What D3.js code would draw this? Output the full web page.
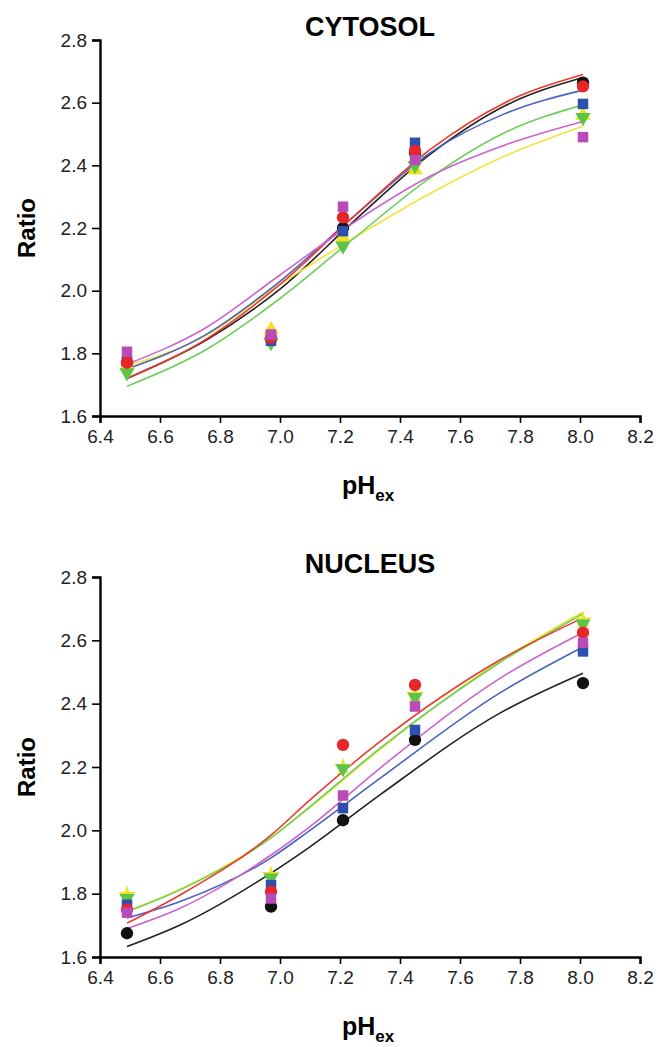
<!DOCTYPE html>
<html>
<head>
<meta charset="utf-8">
<script src="https://cdn.jsdelivr.net/npm/d3@7"></script>
<style>
  body { margin: 0; background: #fff; }
  svg { display: block; }
</style>
</head>
<body>
<div id="chart"></div>
<script>
'use strict';
// two panels of ratio vs external pH, six cells each, points + fitted curves

var phPoints = [6.49, 6.97, 7.21, 7.45, 8.01];
var xTicks = [6.4, 6.6, 6.8, 7.0, 7.2, 7.4, 7.6, 7.8, 8.0, 8.2];
var yTicks = [1.6, 1.8, 2.0, 2.2, 2.4, 2.6, 2.8];

// measured ratios, cytosol
var cytBlack   = [1.77, 1.845, 2.20, 2.44, 2.664];
var cytRed     = [1.77, 1.85, 2.234, 2.446, 2.652];
var cytBlue    = [1.775, 1.84, 2.19, 2.472, 2.596];
var cytGreen   = [1.738, 1.835, 2.143, 2.40, 2.553];
var cytYellow  = [1.76, 1.875, 2.17, 2.385, 2.56];
var cytMagenta = [1.805, 1.86, 2.268, 2.417, 2.49];

// fitted curves, cytosol
var cytFitPh      = [6.49, 6.75, 7.0, 7.25, 7.5, 7.75, 8.01];
var cytFitBlack   = [1.72, 1.84, 2.005, 2.225, 2.435, 2.59, 2.68];
var cytFitRed     = [1.72, 1.843, 2.02, 2.24, 2.45, 2.60, 2.69];
var cytFitBlue    = [1.75, 1.858, 2.03, 2.24, 2.44, 2.565, 2.64];
var cytFitGreen   = [1.695, 1.81, 1.975, 2.17, 2.36, 2.505, 2.593];
var cytFitYellow  = [1.76, 1.855, 2.02, 2.17, 2.31, 2.43, 2.525];
var cytFitMagenta = [1.765, 1.88, 2.05, 2.22, 2.365, 2.465, 2.54];

// measured ratios, nucleus
var nucBlack   = [1.675, 1.759, 2.032, 2.286, 2.465];
var nucRed     = [1.75, 1.806, 2.27, 2.459, 2.624];
var nucBlue    = [1.765, 1.827, 2.07, 2.317, 2.565];
var nucGreen   = [1.785, 1.85, 2.195, 2.42, 2.652];
var nucYellow  = [1.796, 1.859, 2.20, 2.428, 2.663];
var nucMagenta = [1.74, 1.785, 2.11, 2.391, 2.592];

// fitted curves, nucleus
var nucFitPh      = [6.49, 6.667, 6.97, 7.1, 7.333, 7.733, 8.01];
var nucFitBlack   = [1.633, 1.701, 1.865, 1.948, 2.112, 2.37, 2.496];
var nucFitRed     = [1.707, 1.796, 1.985, 2.096, 2.28, 2.538, 2.671];
var nucFitBlue    = [1.723, 1.775, 1.913, 2.0, 2.164, 2.434, 2.579];
var nucFitGreen   = [1.743, 1.812, 1.976, 2.075, 2.259, 2.53, 2.684];
var nucFitYellow  = [1.745, 1.814, 1.978, 2.072, 2.255, 2.535, 2.69];
var nucFitMagenta = [1.69, 1.754, 1.922, 2.012, 2.196, 2.48, 2.625];

var colors = {
    black: "#111111", red: "#e8262a", blue: "#2f4fae",
    green: "#5cc447", yellow: "#efe12a", magenta: "#b94bb8"
};
var lineColors = {
    black: "#222222", red: "#ea3a2e", blue: "#4a62c0",
    green: "#6ccf5a", yellow: "#f1e43c", magenta: "#cc63cc"
};

var font = "'Liberation Sans', Arial, Helvetica, sans-serif";
var tickFont = "'Liberation Sans Narrow', 'Arial Narrow', 'Liberation Sans', Arial, sans-serif";

var svg = d3.select("#chart").append("svg")
    .attr("width", 660)
    .attr("height", 1047);

var x = d3.scaleLinear().domain([6.4, 8.2]).range([100, 640]);

function drawPanel(opts) {
    var y = d3.scaleLinear().domain([1.6, 2.8]).range([opts.bottom, opts.top]);
    var g = svg.append("g");

    var line = d3.line()
        .x(function(d) { return x(d[0]); })
        .y(function(d) { return y(d[1]); })
        .curve(d3.curveMonotoneX);

    // fitted curves
    opts.series.forEach(function(s) {
        var pts = opts.fitPh.map(function(p, i) { return [p, s.fit[i]]; });
        g.append("path")
            .attr("d", line(pts))
            .attr("fill", "none")
            .attr("stroke", lineColors[s.color])
            .attr("stroke-width", 1.6);
    });

    // measured points
    opts.series.forEach(function(s) {
        var sym = d3.symbol().type(s.shape).size(s.size);
        g.selectAll(null)
            .data(phPoints.map(function(p, i) { return [p, s.values[i]]; }))
            .enter()
            .append("path")
                .attr("d", sym)
                .attr("transform", function(d) {
                    return "translate(" + x(d[0]) + "," + y(d[1]) + ")" + (s.flip ? " rotate(180)" : "");
                })
                .attr("fill", colors[s.color]);
    });

    // axes
    var ax = g.append("g")
        .attr("transform", "translate(0," + opts.bottom + ")")
        .call(d3.axisBottom(x).tickValues(xTicks).tickFormat(d3.format(".1f")).tickSize(7).tickPadding(7));
    var ay = g.append("g")
        .attr("transform", "translate(100,0)")
        .call(d3.axisLeft(y).tickValues(yTicks).tickFormat(d3.format(".1f")).tickSize(8).tickPadding(5));

    [ax, ay].forEach(function(a) {
        a.select(".domain").attr("stroke-width", 2.4).attr("stroke", "#000");
        a.selectAll(".tick line").attr("stroke-width", 1.6).attr("stroke", "#000");
        a.selectAll(".tick text")
            .style("font-family", tickFont)
            .style("font-size", "19px")
            .attr("fill", "#222");
    });

    // title
    g.append("text")
        .attr("x", 370)
        .attr("y", opts.top - 4)
        .attr("text-anchor", "middle")
        .style("font-family", font)
        .style("font-size", "27px")
        .style("font-weight", "bold")
        .text(opts.title);

    // y label
    g.append("text")
        .attr("transform", "translate(35," + ((opts.top + opts.bottom) / 2) + ") rotate(-90)")
        .attr("text-anchor", "middle")
        .style("font-family", font)
        .style("font-size", "24px")
        .style("font-weight", "bold")
        .text("Ratio");

    // x label with subscript
    var xl = g.append("text")
        .attr("x", 368)
        .attr("y", opts.bottom + 78)
        .attr("text-anchor", "middle")
        .style("font-family", font)
        .style("font-size", "25px")
        .style("font-weight", "bold");
    xl.append("tspan").text("pH");
    xl.append("tspan").attr("dy", 7).style("font-size", "17px").text("ex");
}

function makeSeries(vals, fits) {
    return [
        {color: "black",   shape: d3.symbolCircle,   size: 120, values: vals[0], fit: fits[0]},
        {color: "yellow",  shape: vals.yellowShape,  size: 105, values: vals[4], fit: fits[4]},
        {color: "green",   shape: d3.symbolTriangle, size: 100, values: vals[3], fit: fits[3], flip: true},
        {color: "blue",    shape: d3.symbolSquare,   size: 110, values: vals[2], fit: fits[2]},
        {color: "red",     shape: d3.symbolCircle,   size: 120, values: vals[1], fit: fits[1]},
        {color: "magenta", shape: d3.symbolSquare,   size: 110, values: vals[5], fit: fits[5]}
    ];
}

var cytVals = [cytBlack, cytRed, cytBlue, cytGreen, cytYellow, cytMagenta];
cytVals.yellowShape = d3.symbolTriangle;
var nucVals = [nucBlack, nucRed, nucBlue, nucGreen, nucYellow, nucMagenta];
nucVals.yellowShape = d3.symbolStar;

drawPanel({
    title: "CYTOSOL", top: 40, bottom: 416,
    fitPh: cytFitPh,
    series: makeSeries(cytVals, [cytFitBlack, cytFitRed, cytFitBlue, cytFitGreen, cytFitYellow, cytFitMagenta])
});

drawPanel({
    title: "NUCLEUS", top: 577, bottom: 957,
    fitPh: nucFitPh,
    series: makeSeries(nucVals, [nucFitBlack, nucFitRed, nucFitBlue, nucFitGreen, nucFitYellow, nucFitMagenta])
});
</script>
</body>
</html>
